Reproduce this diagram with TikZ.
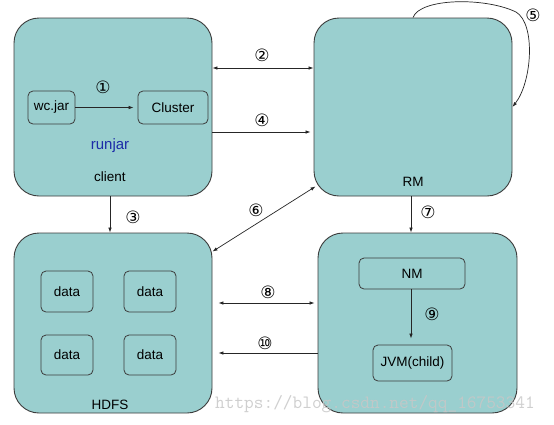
\documentclass[tikz,border=0pt]{standalone}
\usepackage{fontspec}
\setmainfont{Liberation Sans}
\newfontfamily\symfont{DejaVu Sans}
\usetikzlibrary{arrows.meta,calc}
\definecolor{boxfill}{HTML}{9ACFCF}
\definecolor{boxline}{HTML}{3C3C3C}
\definecolor{runblue}{HTML}{1C2CA8}
\begin{document}
\begin{tikzpicture}[x=1pt,y=-1pt,
  bigbox/.style={draw=boxline,fill=boxfill,line width=0.9pt,rounded corners=25pt,inner sep=0pt},
  smallbox/.style={draw=boxline,fill=boxfill,line width=0.8pt,rounded corners=5pt,inner sep=0pt,font=\fontsize{13.5}{16}\selectfont},
  lbl/.style={font=\fontsize{13.5}{16}\selectfont,inner sep=0pt},
  num/.style={font=\symfont\fontsize{17}{19}\selectfont,inner sep=0pt},
  conn/.style={draw=black!85,line width=0.7pt,-{Latex[length=5pt,width=3.5pt]}},
  bconn/.style={draw=black!85,line width=0.7pt,{Latex[length=5pt,width=3.5pt]}-{Latex[length=5pt,width=3.5pt]}}]
\useasboundingbox (0,0) rectangle (554,424);
\fill[white] (0,0) rectangle (554,424);
% big boxes
\node[bigbox,minimum width=198pt,minimum height=178pt] (client) at (113,107) {};
\node[bigbox,minimum width=198pt,minimum height=178pt] (RM) at (413,107) {};
\node[bigbox,minimum width=198pt,minimum height=180pt] (HDFS) at (113,323) {};
\node[bigbox,minimum width=199pt,minimum height=180pt] (NMbox) at (417.5,323) {};
% client content
\node[smallbox,minimum width=47pt,minimum height=33pt] (wc) at (51.5,107.5) {wc.jar};
\node[smallbox,minimum width=70pt,minimum height=33pt] (cluster) at (173,107.5) {Cluster};
\node[lbl,text=runblue,font=\fontsize{15}{18}\selectfont] (runjar) at (110,146) {runjar};
\node[lbl] (clientlbl) at (110,177) {client};
\node[lbl] (rmlbl) at (413,182) {RM};
% HDFS content
\node[smallbox,minimum width=52pt,minimum height=41pt] (d1) at (67,291.5) {data};
\node[smallbox,minimum width=52pt,minimum height=41pt] (d2) at (150,291.5) {data};
\node[smallbox,minimum width=52pt,minimum height=40pt] (d3) at (67,355) {data};
\node[smallbox,minimum width=52pt,minimum height=40pt] (d4) at (150,355) {data};
\node[lbl] (hdfslbl) at (110,405) {HDFS};
% NM content
\node[smallbox,minimum width=106pt,minimum height=31pt] (NM) at (412,273.5) {NM};
\node[smallbox,minimum width=79pt,minimum height=36pt] (JVM) at (412.5,363) {JVM(child)};
% helper coordinates
\coordinate (y2) at (0,68);
\coordinate (y4) at (0,132);
\coordinate (x3) at (110,0);
\coordinate (x7) at (411,0);
\coordinate (y8) at (0,303);
\coordinate (y10) at (0,353);
% connectors
\draw[conn,shorten >=4pt] (wc) -- (cluster);
\draw[bconn] (client.east |- y2) -- (RM.west |- y2);
\draw[conn,shorten >=3pt] (client.east |- y4) -- (RM.west |- y4);
\draw[conn] (client.south -| x3) -- (HDFS.north -| x3);
\draw[bconn] ($(RM.south west)+(2,-10)$) -- ($(HDFS.north east)+(0,19)$);
\draw[conn] (RM.north) .. controls (420,-2) and (485,-3) .. (516,12) .. controls (536,24) and (532,82) .. (RM.east);
\draw[conn] (RM.south -| x7) -- (NMbox.north -| x7);
\draw[bconn,shorten <=6pt,shorten >=3pt] (HDFS.east |- y8) -- (NMbox.west |- y8);
\draw[conn,shorten >=6pt] (NMbox.west |- y10) -- (HDFS.east |- y10);
\draw[conn,shorten >=6pt] (NM.south -| x7) -- (JVM.north -| x7);
% numbers
\node[num] (n1) at (103,87) {①};
\node[num] (n2) at (262,55) {②};
\node[num] (n3) at (133,217) {③};
\node[num] (n4) at (262,120) {④};
\node[num] (n5) at (533,15) {⑤};
\node[num] (n6) at (256,210) {⑥};
\node[num] (n7) at (428,212) {⑦};
\node[num] (n8) at (268,292) {⑧};
\node[num] (n9) at (432,314) {⑨};
\node[num] (n10) at (265,343) {⑩};
% watermark
\node[text=black!22,font=\ttfamily\fontsize{18.8}{20}\selectfont,inner sep=0pt,anchor=west,opacity=0.85] (wm) at (215,404) {https://blog.csdn.net/qq\_16753341};
\end{tikzpicture}
\end{document}
